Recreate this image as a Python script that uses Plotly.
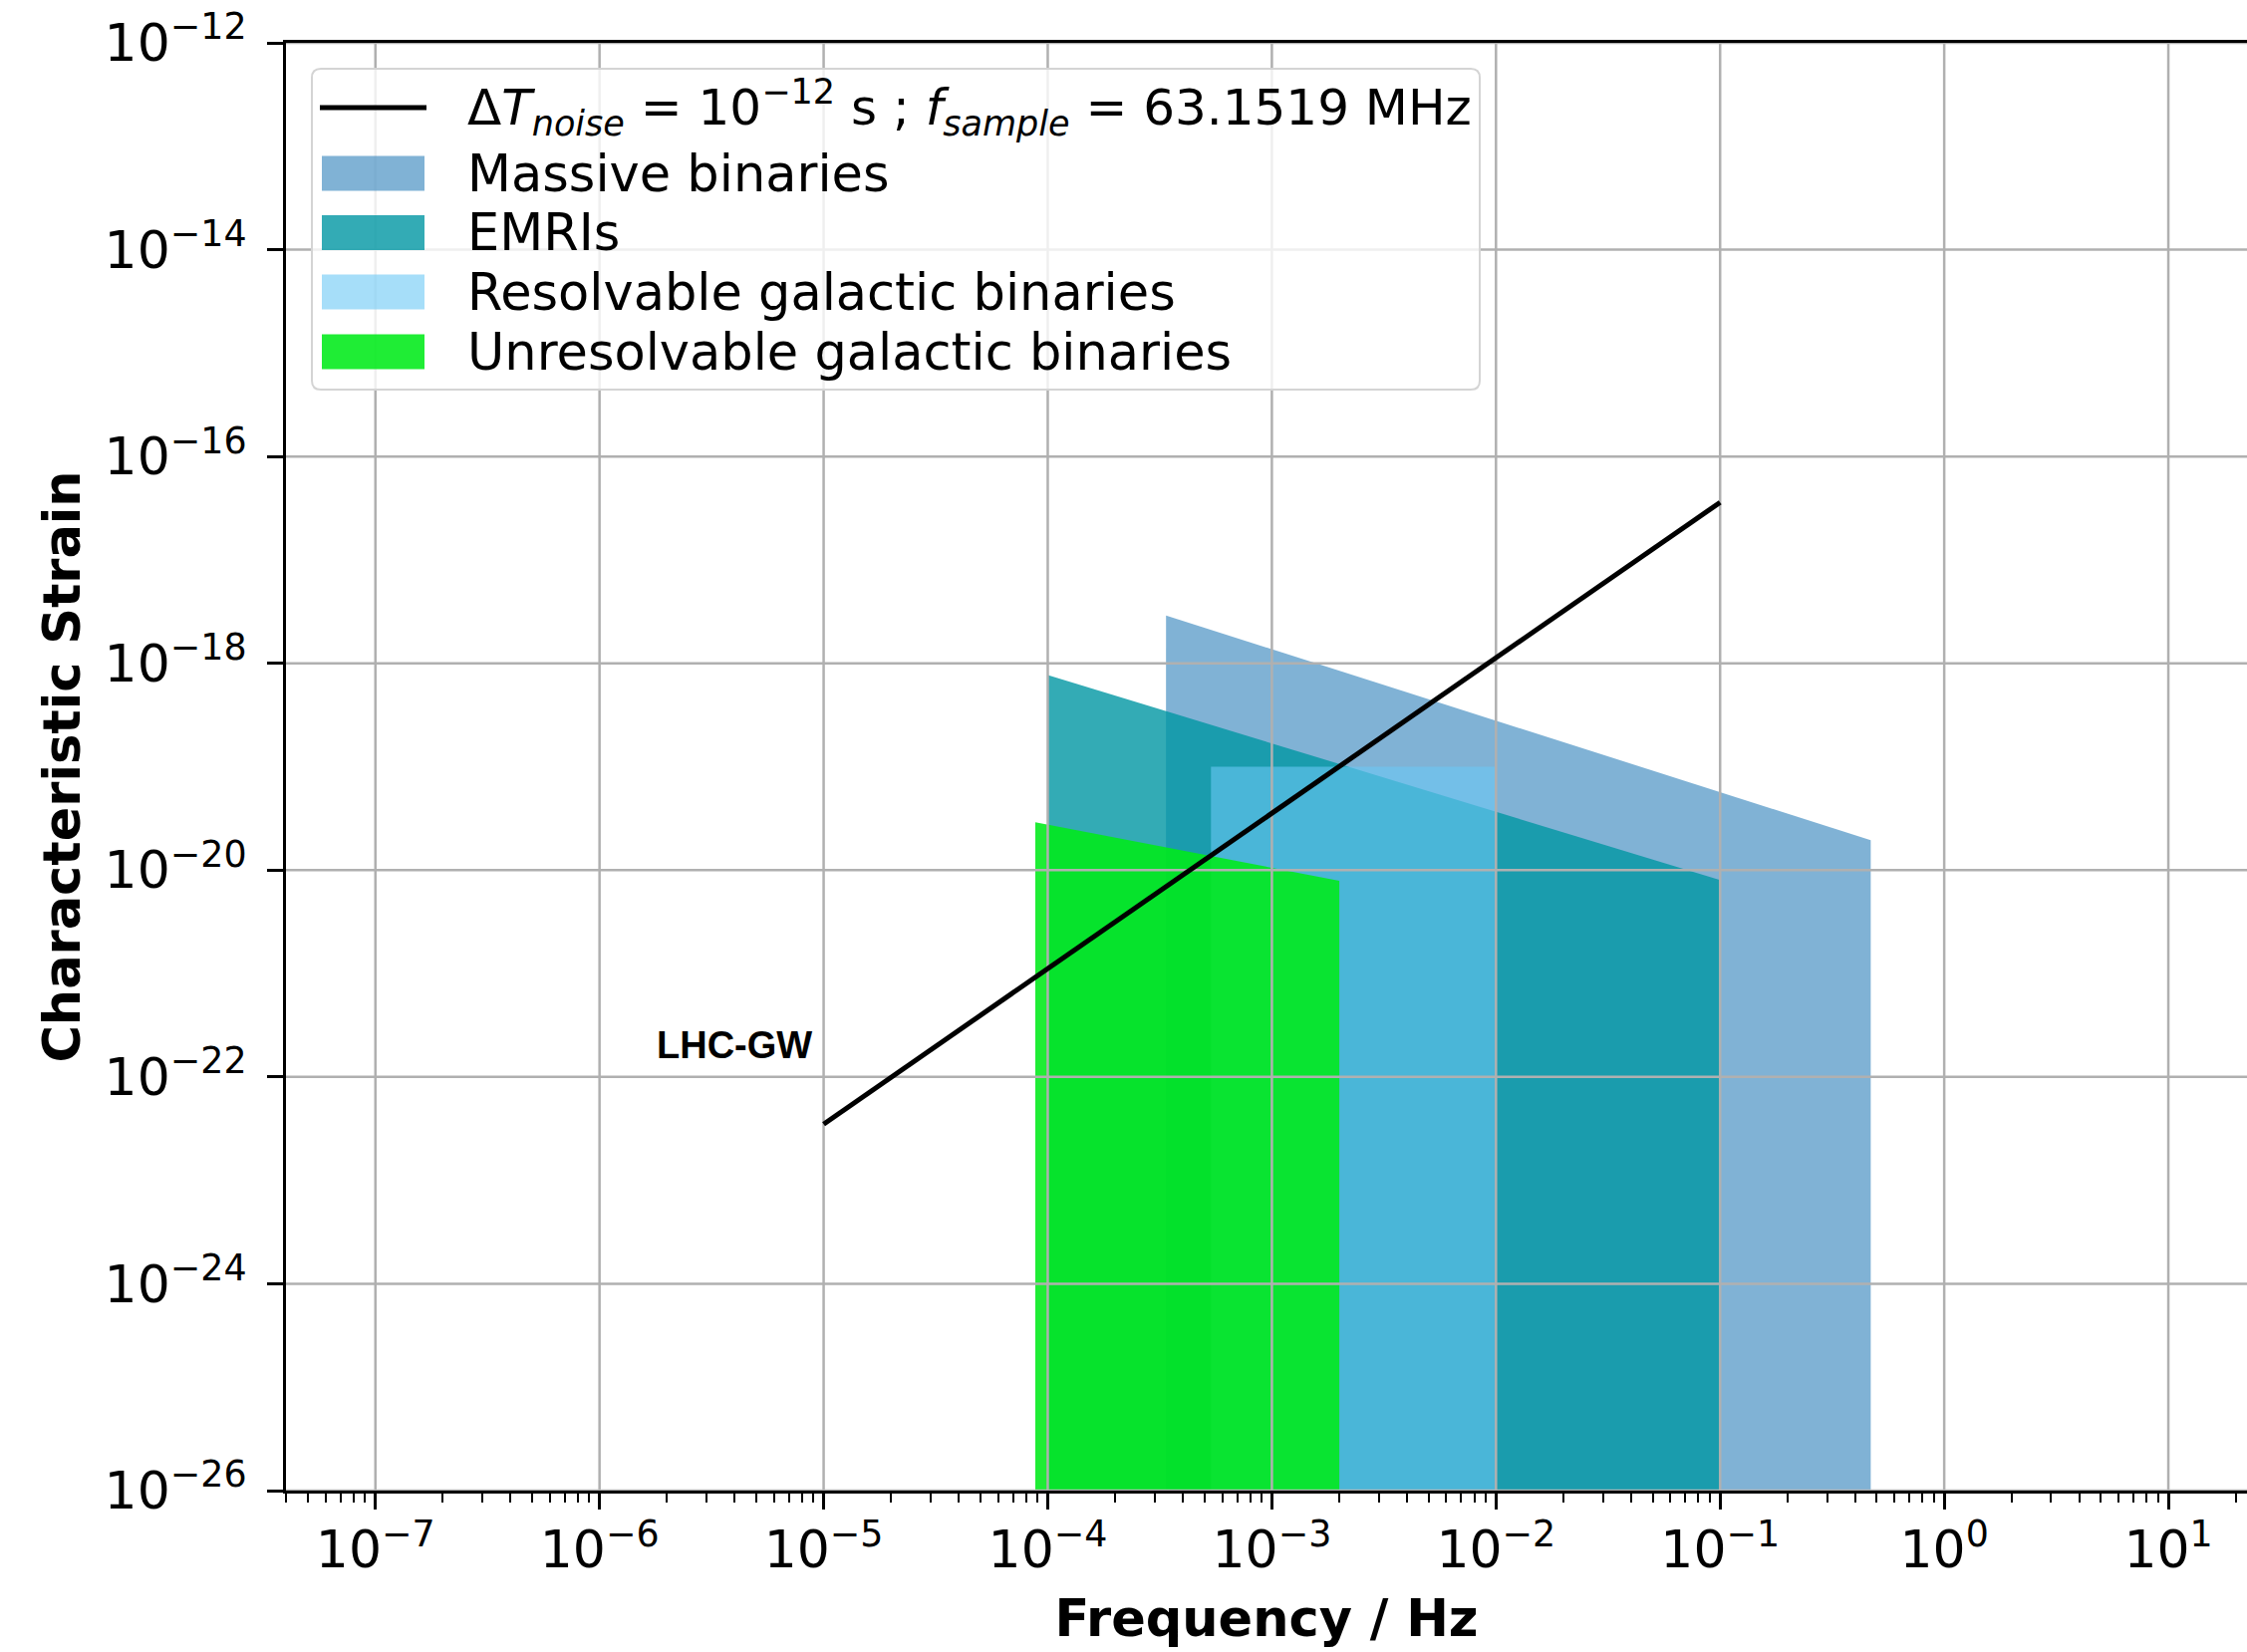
import plotly.graph_objects as go

# ---------------- data ----------------
lhc_label = "\u0394<i>T</i><sub><i>noise</i></sub> = 10<sup>\u221212</sup> s ; <i>f</i><sub><i>sample</i></sub> = 63.1519 MHz"
lhc_freq = [1e-5, 1e-1]
lhc_strain = [3.5e-23, 3.6e-17]

massive_freq = [3.37e-4, 3.37e-4, 0.47, 0.47]
massive_strain = [1e-26, 2.9e-18, 1.95e-20, 1e-26]

emri_freq = [1e-4, 1e-4, 0.1, 0.1]
emri_strain = [1e-26, 7.7e-19, 8e-21, 1e-26]

resolvable_freq = [5.35e-4, 5.35e-4, 1e-2, 1e-2]
resolvable_strain = [1e-26, 1e-19, 1e-19, 1e-26]

unresolvable_freq = [8.8e-5, 8.8e-5, 2.0e-3, 2.0e-3]
unresolvable_strain = [1e-26, 2.9e-20, 7.9e-21, 1e-26]

series_names = ["Massive binaries", "EMRIs", "Resolvable galactic binaries",
                "Unresolvable galactic binaries"]

x_tick_exps = [-7, -6, -5, -4, -3, -2, -1, 0, 1]
y_tick_exps = [-26, -24, -22, -20, -18, -16, -14, -12]

annotation_text = "LHC-GW"

# ---------------- style / layout ----------------
W, H = 2255, 1658
M_L, M_R, M_T, M_B = 287, 0, 43, 162
X_RANGE = [-7.399, 1.351]
Y_RANGE = [-26, -12]
FONT = "DejaVu Sans"

fill_colors = ["rgba(60,137,190,0.65)", "rgba(0,150,162,0.8)",
               "rgba(107,200,245,0.6)", "rgba(0,235,25,0.88)"]

PW = W - M_L - M_R
PH = H - M_T - M_B


def px_x(px):
    return (px - M_L) / PW


def px_y(py):
    return (H - M_B - py) / PH


def sup_label(e):
    s = str(e).replace("-", "\u2212")
    return "10<sup>" + s + "</sup>"


fig = go.Figure()

polys = [(massive_freq, massive_strain), (emri_freq, emri_strain),
         (resolvable_freq, resolvable_strain), (unresolvable_freq, unresolvable_strain)]
for i, ((fx, fy), name) in enumerate(zip(polys, series_names)):
    fig.add_trace(go.Scatter(
        x=fx, y=fy, mode="lines", fill="toself", fillcolor=fill_colors[i],
        line=dict(width=0, color=fill_colors[i]), name=name,
        showlegend=False, hoverinfo="skip"))

# grid lines drawn above the filled regions (as in the reference)
gx, gy = [], []
for e in x_tick_exps:
    gx += [10 ** e, 10 ** e, None]
    gy += [10 ** Y_RANGE[0], 10 ** Y_RANGE[1], None]
for e in y_tick_exps:
    gx += [10 ** X_RANGE[0], 10 ** X_RANGE[1], None]
    gy += [10 ** e, 10 ** e, None]
fig.add_trace(go.Scatter(x=gx, y=gy, mode="lines",
                         line=dict(color="#b0b0b0", width=2.5),
                         showlegend=False, hoverinfo="skip"))

fig.add_trace(go.Scatter(x=lhc_freq, y=lhc_strain, mode="lines",
                         line=dict(color="black", width=5),
                         name=lhc_label, showlegend=False))

minor_vals = [m * 10.0 ** k for k in range(-8, 2) for m in range(2, 10)]

# ---------------- legend (matplotlib-style box with patches) ----------------
shapes = []
annotations = []
bx0, by0, bx1, by1, rad = 313, 69, 1485, 391, 9
X0, X1 = px_x(bx0), px_x(bx1)
Y0, Y1 = px_y(by0), px_y(by1)
rx, ry = rad / PW, rad / PH
path = (f"M {X0+rx},{Y0} L {X1-rx},{Y0} Q {X1},{Y0} {X1},{Y0-ry} "
        f"L {X1},{Y1+ry} Q {X1},{Y1} {X1-rx},{Y1} L {X0+rx},{Y1} "
        f"Q {X0},{Y1} {X0},{Y1+ry} L {X0},{Y0-ry} Q {X0},{Y0} {X0+rx},{Y0} Z")
shapes.append(dict(type="path", path=path, xref="paper", yref="paper",
                   fillcolor="rgba(255,255,255,0.8)",
                   line=dict(color="#d4d4d4", width=2), layer="above"))

sw_x0, sw_x1, txt_x = 323, 426, 467
row_centers = [108, 174, 233.5, 293, 353]
sw_half = 17.5
shapes.append(dict(type="line", xref="paper", yref="paper",
                   x0=px_x(321), x1=px_x(428), y0=px_y(row_centers[0]),
                   y1=px_y(row_centers[0]), line=dict(color="black", width=5),
                   layer="above"))
annotations.append(dict(text=lhc_label, xref="paper", yref="paper",
                        x=px_x(txt_x), y=px_y(row_centers[0]),
                        xanchor="left", yanchor="middle", showarrow=False,
                        font=dict(family=FONT, size=50, color="black")))
for i, name in enumerate(series_names):
    cy = row_centers[i + 1]
    shapes.append(dict(type="rect", xref="paper", yref="paper",
                       x0=px_x(sw_x0), x1=px_x(sw_x1),
                       y0=px_y(cy - sw_half), y1=px_y(cy + sw_half),
                       fillcolor=fill_colors[i], line=dict(width=0),
                       layer="above"))
    annotations.append(dict(text=name, xref="paper", yref="paper",
                            x=px_x(txt_x), y=px_y(cy), xanchor="left",
                            yanchor="middle", showarrow=False,
                            font=dict(family=FONT, size=51, color="black")))

annotations.append(dict(
    text="<b>" + annotation_text + "</b>", x=-5.043, y=-21.69,
    xref="x", yref="y", xanchor="right", yanchor="middle",
    showarrow=False, font=dict(family="Liberation Sans", size=38, color="black")))

fig.update_layout(
    width=W, height=H,
    margin=dict(l=M_L, r=M_R, t=M_T, b=M_B, autoexpand=False),
    paper_bgcolor="white", plot_bgcolor="white",
    font=dict(family=FONT, size=50, color="black"),
    showlegend=False,
    xaxis=dict(
        type="log", range=X_RANGE, showgrid=False, zeroline=False,
        showline=True, linecolor="black", linewidth=3, mirror=True,
        tickmode="array", tickvals=[10 ** e for e in x_tick_exps],
        ticktext=[sup_label(e) for e in x_tick_exps],
        ticks="outside", ticklen=16, tickwidth=3, tickcolor="black",
        tickfont=dict(family=FONT, size=52, color="black"),
        ticklabelstandoff=-4,
        minor=dict(tickmode="array", tickvals=minor_vals, ticks="outside",
                   ticklen=9, tickwidth=2, tickcolor="black", showgrid=False),
        title=dict(text="<b>Frequency / Hz</b>", standoff=22,
                   font=dict(family=FONT, size=51, color="black")),
        automargin=False,
    ),
    yaxis=dict(
        type="log", range=Y_RANGE, showgrid=False, zeroline=False,
        showline=True, linecolor="black", linewidth=3,
        tickmode="array", tickvals=[10.0 ** e for e in y_tick_exps],
        ticktext=[sup_label(e) for e in y_tick_exps],
        ticks="outside", ticklen=16, tickwidth=3, tickcolor="black",
        tickfont=dict(family=FONT, size=52, color="black"),
        ticklabelstandoff=10,
        title=dict(text="<b>Characteristic Strain</b>", standoff=8,
                   font=dict(family=FONT, size=51, color="black")),
        automargin=False,
    ),
    shapes=shapes,
    annotations=annotations,
)

fig.write_html("out.html")
